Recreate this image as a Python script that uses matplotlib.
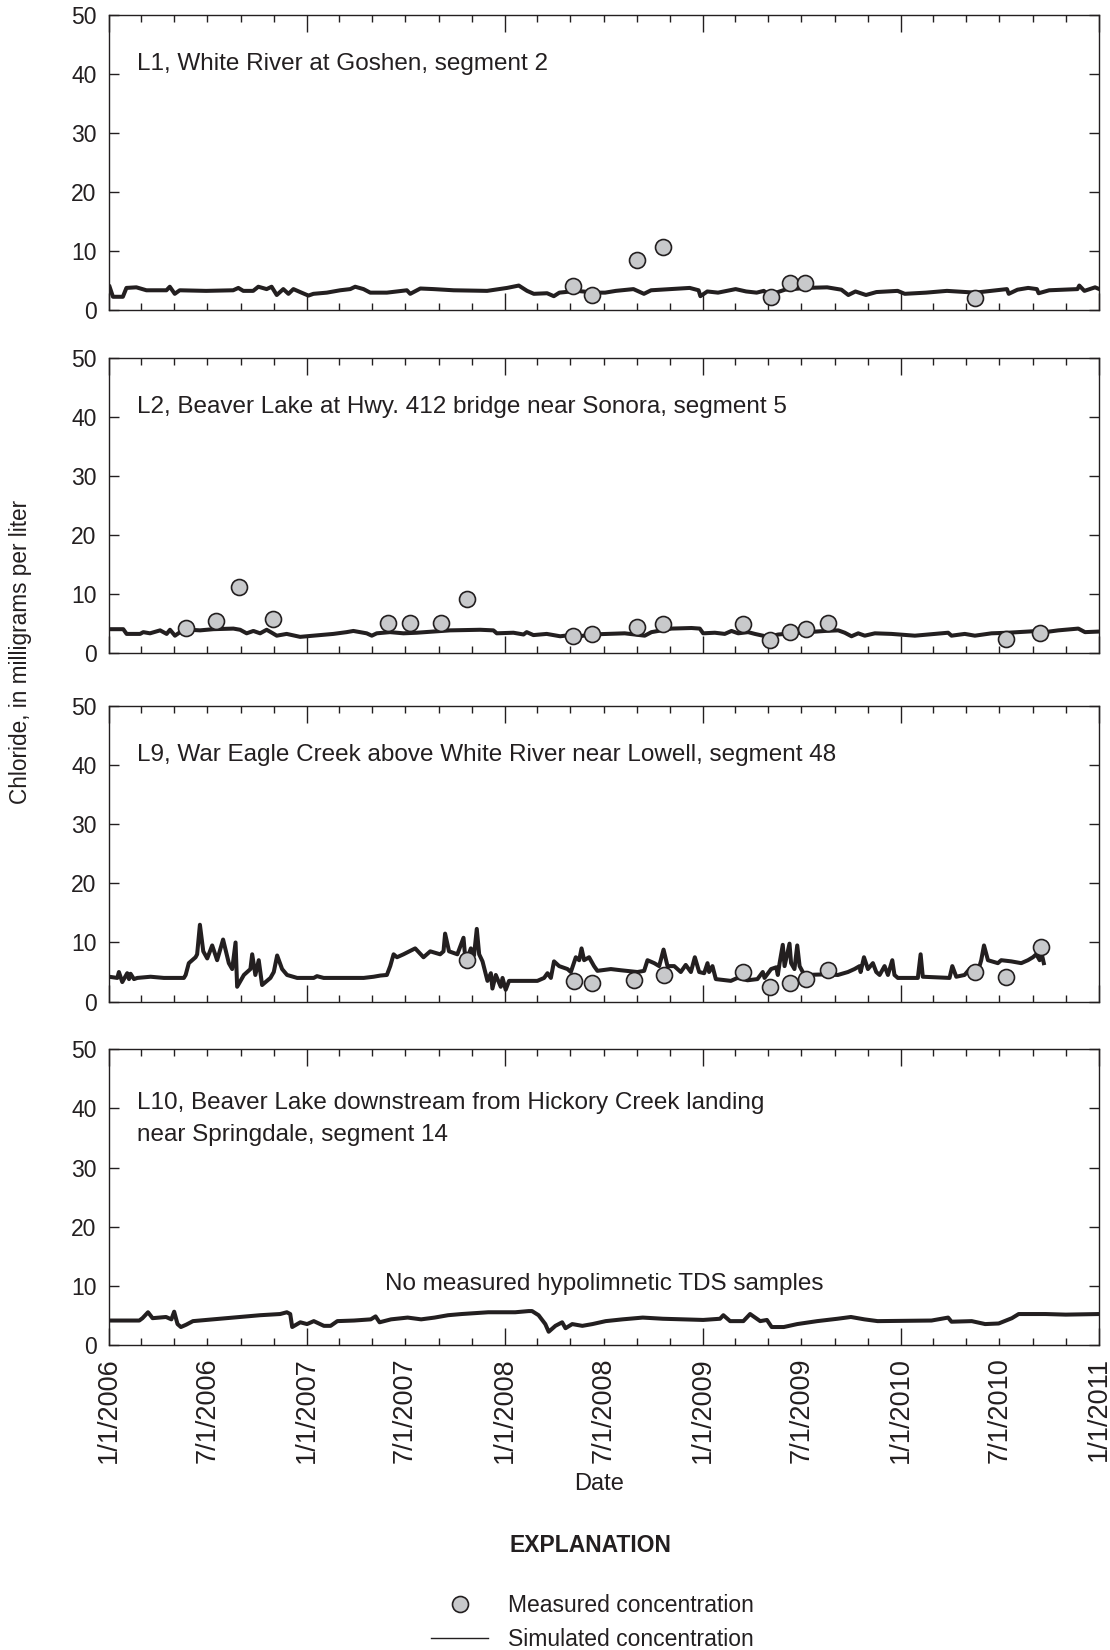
import numpy as np
import pandas as pd
import matplotlib
matplotlib.use('Agg')
import matplotlib.pyplot as plt
import matplotlib.dates as mdates
from matplotlib.lines import Line2D
from matplotlib.ticker import FuncFormatter

INK = '#231f20'
FILL = '#c8c9cb'

plt.rcParams['font.family'] = ['Liberation Sans', 'DejaVu Sans']
plt.rcParams['text.color'] = INK

# ---- L1, White River at Goshen (decimal years, mg/L) ----
l1_sim_yr = [2006.003, 2006.02, 2006.07, 2006.088, 2006.138, 2006.189, 2006.29, 2006.307,
             2006.332, 2006.357, 2006.49, 2006.627, 2006.653, 2006.678, 2006.728, 2006.754,
             2006.796, 2006.821, 2006.847, 2006.88, 2006.906, 2006.931, 2006.965, 2007.007,
             2007.032, 2007.10, 2007.167, 2007.218, 2007.243, 2007.285, 2007.319, 2007.403,
             2007.504, 2007.521, 2007.572, 2007.639, 2007.74, 2007.909, 2008.01, 2008.069,
             2008.111, 2008.145, 2008.212, 2008.246, 2008.274, 2008.363, 2008.452, 2008.505,
             2008.559, 2008.648, 2008.701, 2008.737, 2008.932, 2008.977, 2008.986, 2009.021,
             2009.075, 2009.164, 2009.217, 2009.27, 2009.306, 2009.333, 2009.413, 2009.52,
             2009.626, 2009.698, 2009.733, 2009.769, 2009.822, 2009.875, 2009.982, 2010.018,
             2010.125, 2010.231, 2010.374, 2010.48, 2010.534, 2010.543, 2010.587, 2010.641,
             2010.685, 2010.694, 2010.747, 2010.89, 2010.899, 2010.925, 2010.979, 2011.0]
l1_sim_val = [4.0, 2.3, 2.3, 3.8, 3.9, 3.4, 3.4, 4.0,
              2.8, 3.4, 3.3, 3.4, 3.8, 3.3, 3.3, 4.0,
              3.6, 4.0, 2.6, 3.6, 2.8, 3.6, 3.1, 2.5,
              2.8, 3.0, 3.4, 3.6, 4.0, 3.6, 3.0, 3.0,
              3.4, 2.8, 3.7, 3.6, 3.4, 3.3, 3.8, 4.2,
              3.3, 2.8, 2.9, 2.4, 3.0, 3.3, 3.0, 3.0,
              3.3, 3.6, 2.8, 3.4, 3.8, 3.4, 2.4, 3.2,
              3.0, 3.6, 3.2, 3.0, 3.3, 2.6, 3.5, 3.8,
              3.9, 3.5, 2.6, 3.2, 2.6, 3.1, 3.3, 2.8,
              3.0, 3.3, 3.0, 3.4, 3.6, 2.8, 3.5, 3.8,
              3.6, 2.9, 3.4, 3.6, 4.2, 3.3, 3.9, 3.6]
l1_obs_yr = [2008.345, 2008.438, 2008.665, 2008.795, 2009.342, 2009.44, 2009.514, 2010.374]
l1_obs_val = [4.1, 2.6, 8.5, 10.7, 2.3, 4.7, 4.7, 2.1]

# ---- L2, Beaver Lake at Hwy. 412 bridge ----
l2_sim_yr = [2006.0, 2006.072, 2006.089, 2006.157, 2006.173, 2006.207, 2006.258, 2006.291,
             2006.308, 2006.333, 2006.359, 2006.409, 2006.46, 2006.527, 2006.628, 2006.662,
             2006.695, 2006.729, 2006.763, 2006.796, 2006.822, 2006.847, 2006.897, 2006.965,
             2007.032, 2007.133, 2007.2, 2007.234, 2007.301, 2007.327, 2007.352, 2007.419,
             2007.487, 2007.554, 2007.638, 2007.722, 2007.874, 2007.941, 2007.958, 2008.042,
             2008.093, 2008.109, 2008.143, 2008.21, 2008.278, 2008.328, 2008.362, 2008.429,
             2008.604, 2008.705, 2008.739, 2008.84, 2008.941, 2008.983, 2009.0, 2009.059,
             2009.109, 2009.143, 2009.177, 2009.227, 2009.261, 2009.328, 2009.379, 2009.446,
             2009.53, 2009.614, 2009.682, 2009.715, 2009.749, 2009.783, 2009.816, 2009.867,
             2009.951, 2010.069, 2010.17, 2010.237, 2010.254, 2010.321, 2010.372, 2010.456,
             2010.54, 2010.692, 2010.726, 2010.793, 2010.894, 2010.928, 2011.0]
l2_sim_val = [4.1, 4.1, 3.3, 3.3, 3.6, 3.4, 3.9, 3.3,
              4.0, 3.0, 3.6, 4.0, 3.9, 4.1, 4.2, 4.0,
              3.4, 3.8, 3.4, 4.0, 3.5, 3.0, 3.3, 2.8,
              3.0, 3.3, 3.6, 3.8, 3.4, 3.0, 3.4, 3.6,
              3.4, 3.5, 3.7, 3.9, 4.0, 3.9, 3.4, 3.5,
              3.2, 3.6, 3.1, 3.3, 2.9, 3.1, 2.8, 3.2,
              3.4, 3.0, 3.6, 4.2, 4.3, 4.2, 3.4, 3.5,
              3.3, 3.8, 3.4, 3.6, 3.3, 2.8, 3.2, 3.4,
              3.6, 3.8, 3.9, 3.5, 2.9, 3.4, 3.0, 3.4,
              3.3, 3.0, 3.3, 3.5, 3.0, 3.3, 3.0, 3.4,
              3.5, 3.8, 3.6, 3.9, 4.2, 3.6, 3.7]
l2_obs_yr = [2006.389, 2006.54, 2006.658, 2006.827, 2007.409, 2007.52, 2007.675, 2007.806,
             2008.345, 2008.438, 2008.668, 2008.798, 2009.202, 2009.34, 2009.441, 2009.517,
             2009.628, 2010.529, 2010.70]
l2_obs_val = [4.3, 5.5, 11.2, 5.9, 5.1, 5.2, 5.2, 9.2,
              3.0, 3.2, 4.4, 5.0, 5.0, 2.2, 3.7, 4.2,
              5.1, 2.4, 3.4]

# ---- L9, War Eagle Creek above White River ----
l9_sim_yr = [2006.0, 2006.042, 2006.05, 2006.067, 2006.092, 2006.101, 2006.109, 2006.126,
             2006.143, 2006.21, 2006.277, 2006.378, 2006.387, 2006.403, 2006.437, 2006.445,
             2006.459, 2006.476, 2006.496, 2006.521, 2006.546, 2006.576, 2006.605, 2006.622,
             2006.639, 2006.647, 2006.681, 2006.714, 2006.723, 2006.739, 2006.756, 2006.773,
             2006.815, 2006.832, 2006.849, 2006.874, 2006.899, 2006.95, 2007.034, 2007.05,
             2007.084, 2007.286, 2007.336, 2007.37, 2007.403, 2007.42, 2007.437, 2007.454,
             2007.487, 2007.546, 2007.588, 2007.622, 2007.672, 2007.689, 2007.697, 2007.717,
             2007.759, 2007.79, 2007.801, 2007.827, 2007.843, 2007.857, 2007.869, 2007.886,
             2007.911, 2007.928, 2007.936, 2007.953, 2007.978, 2007.987, 2008.003, 2008.02,
             2008.163, 2008.197, 2008.214, 2008.231, 2008.247, 2008.273, 2008.315, 2008.332,
             2008.357, 2008.374, 2008.386, 2008.399, 2008.424, 2008.449, 2008.466, 2008.534,
             2008.584, 2008.668, 2008.702, 2008.719, 2008.753, 2008.778, 2008.80, 2008.82,
             2008.854, 2008.887, 2008.912, 2008.938, 2008.958, 2008.98, 2009.005, 2009.022,
             2009.03, 2009.047, 2009.064, 2009.14, 2009.173, 2009.224, 2009.274, 2009.301,
             2009.31, 2009.343, 2009.369, 2009.377, 2009.386, 2009.402, 2009.411, 2009.436,
             2009.444, 2009.461, 2009.475, 2009.487, 2009.503, 2009.52, 2009.613, 2009.68,
             2009.731, 2009.764, 2009.79, 2009.795, 2009.812, 2009.832, 2009.857, 2009.874,
             2009.891, 2009.916, 2009.933, 2009.955, 2009.966, 2009.983, 2010.084, 2010.098,
             2010.109, 2010.244, 2010.258, 2010.278, 2010.32, 2010.345, 2010.37, 2010.387,
             2010.404, 2010.418, 2010.438, 2010.488, 2010.505, 2010.556, 2010.606, 2010.64,
             2010.665, 2010.682, 2010.699, 2010.71, 2010.72]
l9_sim_val = [4.2, 4.0, 5.0, 3.3, 4.8, 3.8, 4.7, 3.8,
              4.0, 4.2, 4.0, 4.0, 4.5, 6.5, 7.5, 8.0,
              13.0, 8.5, 7.3, 9.5, 7.0, 10.5, 6.5, 5.5,
              10.0, 2.5, 4.5, 5.5, 8.0, 4.5, 7.0, 2.8,
              4.0, 5.0, 7.8, 5.5, 4.5, 4.0, 4.0, 4.3,
              4.0, 4.0, 4.2, 4.4, 4.5, 6.0, 8.0, 7.5,
              8.0, 9.0, 7.5, 8.5, 8.0, 8.5, 11.5, 8.5,
              8.0, 10.8, 6.5, 9.0, 7.8, 12.3, 8.0, 6.8,
              3.5, 4.8, 2.2, 4.5, 2.5, 4.0, 2.0, 3.5,
              3.5, 4.0, 4.8, 4.0, 6.8, 6.0, 5.5, 5.0,
              7.5, 7.0, 9.0, 7.0, 7.5, 6.0, 5.2, 5.5,
              5.3, 5.0, 5.2, 7.0, 6.5, 6.0, 8.8, 6.0,
              6.0, 5.0, 6.2, 5.0, 7.5, 5.0, 4.8, 6.5,
              5.0, 6.0, 3.8, 3.5, 4.0, 3.6, 3.8, 5.0,
              4.0, 5.5, 5.8, 4.5, 6.5, 9.6, 6.0, 9.8,
              6.5, 5.5, 9.5, 6.0, 5.0, 4.5, 4.6, 4.5,
              5.0, 5.5, 6.0, 5.0, 7.5, 5.5, 6.5, 5.0,
              4.5, 6.0, 4.5, 7.0, 4.5, 4.0, 4.0, 8.0,
              4.2, 4.0, 6.0, 4.2, 4.5, 5.5, 6.0, 5.0,
              7.0, 9.5, 7.0, 6.5, 7.0, 6.8, 6.5, 7.0,
              7.5, 8.0, 7.0, 8.0, 6.5]
l9_obs_yr = [2007.81, 2008.348, 2008.441, 2008.652, 2008.80, 2009.199, 2009.337, 2009.436,
             2009.517, 2009.63, 2010.374, 2010.53, 2010.704]
l9_obs_val = [7.0, 3.4, 3.1, 3.7, 4.5, 5.0, 2.4, 3.2,
              3.9, 5.3, 5.0, 4.2, 9.2]

# ---- L10, Beaver Lake downstream from Hickory Creek landing ----
l10_sim_yr = [2006.0, 2006.153, 2006.169, 2006.197, 2006.22, 2006.288, 2006.315, 2006.329,
              2006.346, 2006.363, 2006.39, 2006.424, 2006.525, 2006.627, 2006.763, 2006.864,
              2006.898, 2006.915, 2006.925, 2006.966, 2007.0, 2007.034, 2007.085, 2007.119,
              2007.153, 2007.237, 2007.322, 2007.346, 2007.366, 2007.424, 2007.508, 2007.576,
              2007.644, 2007.712, 2007.78, 2007.915, 2008.051, 2008.119, 2008.136, 2008.169,
              2008.203, 2008.22, 2008.254, 2008.288, 2008.305, 2008.339, 2008.39, 2008.441,
              2008.508, 2008.593, 2008.695, 2008.797, 2009.0, 2009.085, 2009.102, 2009.136,
              2009.203, 2009.237, 2009.288, 2009.322, 2009.346, 2009.407, 2009.475, 2009.576,
              2009.678, 2009.746, 2009.814, 2009.881, 2010.153, 2010.237, 2010.254, 2010.356,
              2010.424, 2010.492, 2010.559, 2010.593, 2010.729, 2010.831, 2011.0]
l10_sim_val = [4.1, 4.1, 4.5, 5.5, 4.5, 4.7, 4.3, 5.6,
               3.5, 3.0, 3.4, 4.0, 4.3, 4.6, 5.0, 5.2,
               5.5, 5.2, 3.0, 3.8, 3.5, 4.0, 3.2, 3.2,
               4.0, 4.1, 4.3, 4.8, 3.8, 4.3, 4.6, 4.3,
               4.6, 5.0, 5.2, 5.5, 5.5, 5.7, 5.7, 5.0,
               3.5, 2.2, 3.2, 3.8, 2.8, 3.5, 3.2, 3.5,
               4.0, 4.3, 4.6, 4.4, 4.2, 4.4, 5.0, 4.0,
               4.0, 5.2, 4.0, 4.2, 3.0, 3.0, 3.5, 4.0,
               4.4, 4.7, 4.3, 4.0, 4.1, 4.6, 3.9, 4.0,
               3.5, 3.6, 4.5, 5.2, 5.2, 5.1, 5.2]
l10_obs_yr = []
l10_obs_val = []

titles = ['L1, White River at Goshen, segment 2',
          'L2, Beaver Lake at Hwy. 412 bridge near Sonora, segment 5',
          'L9, War Eagle Creek above White River near Lowell, segment 48',
          'L10, Beaver Lake downstream from Hickory Creek landing\nnear Springdale, segment 14']
no_sample_note = 'No measured hypolimnetic TDS samples'

sim_years = [l1_sim_yr, l2_sim_yr, l9_sim_yr, l10_sim_yr]
sim_vals = [l1_sim_val, l2_sim_val, l9_sim_val, l10_sim_val]
obs_years = [l1_obs_yr, l2_obs_yr, l9_obs_yr, l10_obs_yr]
obs_vals = [l1_obs_val, l2_obs_val, l9_obs_val, l10_obs_val]


def to_dates(years):
    years = np.asarray(years, dtype=float)
    return pd.Timestamp('2006-01-01') + pd.to_timedelta((years - 2006.0) * 365.25, unit='D')


def date_label(v, pos):
    d = mdates.num2date(v)
    return f'{d.month}/{d.day}/{d.year}'


def july_label(v, pos):
    d = mdates.num2date(v)
    return f'{d.month}/{d.day}/{d.year}' if d.month == 7 else ''


fig = plt.figure(figsize=(11.1, 16.5), dpi=100)
bottoms = [0.8119, 0.604, 0.393, 0.185]
left, width, height = 0.0982, 0.892, 0.179

for i in range(4):
    ax = fig.add_axes([left, bottoms[i], width, height])
    ax.plot(to_dates(sim_years[i]), sim_vals[i], color=INK, lw=2.9,
            solid_joinstyle='round', zorder=2)
    if obs_years[i]:
        ax.plot(to_dates(obs_years[i]), obs_vals[i], ls='none', marker='o', ms=11.5,
                mfc=FILL, mec=INK, mew=1.2, zorder=3)

    ax.set_xlim(pd.Timestamp('2006-01-01'), pd.Timestamp('2011-01-01'))
    ax.set_ylim(0, 50)
    ax.set_yticks(range(0, 51, 10))
    ax.xaxis.set_major_locator(mdates.YearLocator())
    ax.xaxis.set_minor_locator(mdates.MonthLocator(bymonth=[3, 5, 7, 9, 11]))

    for sp in ax.spines.values():
        sp.set_linewidth(1.0)
        sp.set_color(INK)
    ax.tick_params(which='both', direction='in', top=True, right=True, colors=INK, width=1.0)
    ax.tick_params(axis='y', length=7.5, labelsize=16.5, pad=9)
    ax.tick_params(axis='x', which='major', length=12)
    ax.tick_params(axis='x', which='minor', length=5)

    if i < 3:
        ax.text(0.028, 0.835, titles[i], transform=ax.transAxes, fontsize=17.5,
                ha='left', va='center')
        ax.tick_params(axis='x', which='both', labelbottom=False)
    else:
        ax.text(0.028, 0.765, titles[i], transform=ax.transAxes, fontsize=17.5,
                ha='left', va='center', linespacing=1.6)
        ax.text(0.5, 10.3, no_sample_note, transform=ax.get_yaxis_transform(),
                fontsize=17.5, ha='center', va='center')
        ax.xaxis.set_major_formatter(FuncFormatter(date_label))
        ax.xaxis.set_minor_formatter(FuncFormatter(july_label))
        ax.tick_params(axis='x', which='both', labelrotation=90, labelsize=19.5, pad=9)

fig.text(21 / 1110, 1 - 652 / 1650, 'Chloride, in milligrams per liter', rotation=90,
         fontsize=16.3, ha='center', va='center')
fig.text(0.54, 1 - 1484 / 1650, 'Date', fontsize=17, ha='center', va='center')
fig.text(0.5315, 1 - 1546 / 1650, 'EXPLANATION', fontsize=16.5, fontweight='bold',
         ha='center', va='center')

handles = [Line2D([], [], ls='none', marker='o', ms=11.5, mfc=FILL, mec=INK, mew=1.2),
           Line2D([], [], color=INK, lw=1.0)]
fig.legend(handles, ['Measured concentration', 'Simulated concentration'],
           loc='upper left', bbox_to_anchor=(431 / 1110, 1 - 1594 / 1650),
           frameon=False, fontsize=16.5, handlelength=2.5, handletextpad=0.85,
           labelspacing=0.5, borderpad=0, borderaxespad=0)

fig.savefig('out.png', dpi=100, facecolor='white')
